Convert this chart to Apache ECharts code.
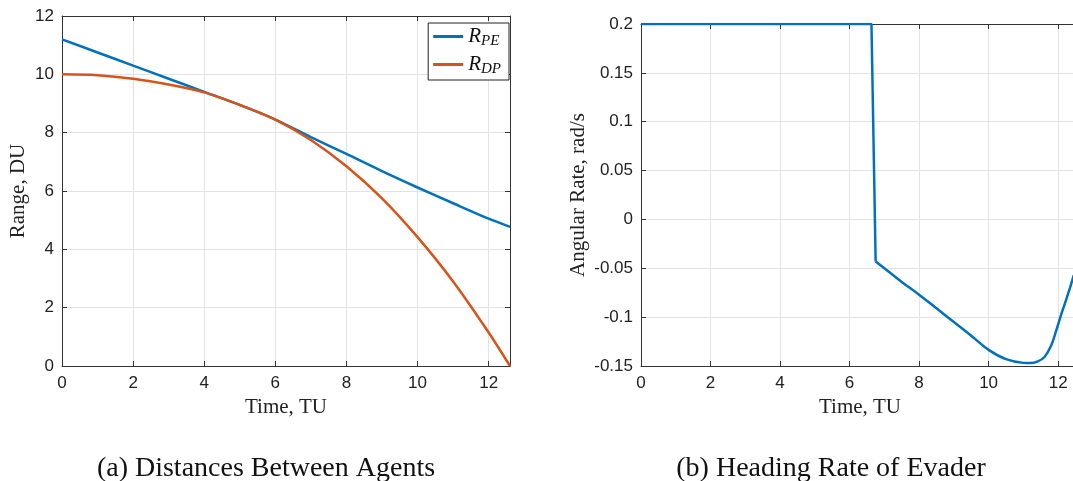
<!DOCTYPE html>
<html>
<head>
<meta charset="utf-8">
<script src="https://cdn.jsdelivr.net/npm/echarts@6/dist/echarts.min.js"></script>
<style>
  html, body { margin: 0; padding: 0; background: #fff; }
  #main { width: 1073px; height: 481px; }
</style>
</head>
<body>
<div id="main"></div>
<script>
// (a) distances between agents
const timeA = [0, 1, 2, 3, 4, 5, 6, 7, 8, 9, 10, 11, 12, 12.6];
const rangePE = [11.2, 10.75, 10.3, 9.85, 9.4, 8.95, 8.45, 7.85, 7.27, 6.68, 6.12, 5.58, 5.05, 4.77];
const rangeDP = [10.0, 9.97, 9.85, 9.65, 9.38, 8.95, 8.45, 7.75, 6.85, 5.75, 4.42, 2.9, 1.15, 0.0];

// (b) heading rate of evader: constant part + jump, then the curved part
const timeB1 = [0, 6.63, 6.75];
const rateB1 = [0.2, 0.2, -0.043];
const timeB2 = [6.75, 7, 7.5, 8, 8.5, 9, 9.5, 10, 10.5, 11, 11.2, 11.4, 11.6, 11.8, 11.95, 12.1, 12.25, 12.35, 12.45];
const rateB2 = [-0.043, -0.050, -0.064, -0.077, -0.091, -0.105, -0.119, -0.1335, -0.143, -0.1468, -0.147, -0.1455, -0.141, -0.129, -0.113, -0.096, -0.080, -0.069, -0.057];

const blue = "#0072BD";
const orange = "#D95319";
const axisCol = "#333333";
const tickFont = "Liberation Sans";
const serif = "Liberation Serif";

function zip(xs, ys) {
  return xs.map((x, i) => [x, ys[i]]);
}

const myChart = echarts.init(document.getElementById("main"));

function mainX(idx, max) {
  return {
    type: "value",
    gridIndex: idx,
    min: 0,
    max: max,
    interval: 2,
    name: "Time, TU",
    nameLocation: "middle",
    nameGap: 30,
    nameTextStyle: { fontFamily: serif, fontSize: 21, color: "#222" },
    axisLine: { show: true, onZero: false, lineStyle: { color: axisCol, width: 1 } },
    axisTick: { show: true, inside: true, length: 5, lineStyle: { color: axisCol } },
    axisLabel: { showMaxLabel: false, fontFamily: tickFont, fontSize: 17, color: "#222", margin: 9 },
    splitLine: { show: true, lineStyle: { color: "#e3e3e3", width: 1 } },
  };
}

function boxX(idx, max) {
  return {
    type: "value",
    gridIndex: idx,
    position: "top",
    min: 0,
    max: max,
    interval: 2,
    axisLine: { show: true, onZero: false, lineStyle: { color: axisCol, width: 1 } },
    axisTick: { show: true, inside: true, length: 5, lineStyle: { color: axisCol } },
    axisLabel: { show: false },
    splitLine: { show: false },
  };
}

function mainY(idx, min, max, interval, name, gap, fmt) {
  return {
    type: "value",
    gridIndex: idx,
    min: min,
    max: max,
    interval: interval,
    name: name,
    nameLocation: "middle",
    nameGap: gap,
    nameTextStyle: { fontFamily: serif, fontSize: 21, color: "#222" },
    axisLine: { show: true, onZero: false, lineStyle: { color: axisCol, width: 1 } },
    axisTick: { show: true, inside: true, length: 5, lineStyle: { color: axisCol } },
    axisLabel: { fontFamily: tickFont, fontSize: 17, color: "#222", margin: 8, formatter: fmt },
    splitLine: { show: true, lineStyle: { color: "#e3e3e3", width: 1 } },
  };
}

function boxY(idx, min, max, interval) {
  return {
    type: "value",
    gridIndex: idx,
    position: "right",
    min: min,
    max: max,
    interval: interval,
    axisLine: { show: true, onZero: false, lineStyle: { color: axisCol, width: 1 } },
    axisTick: { show: true, inside: true, length: 5, lineStyle: { color: axisCol } },
    axisLabel: { show: false },
    splitLine: { show: false },
  };
}

let option = {
  animation: false,
  backgroundColor: "#fff",
  grid: [
    { left: 62, top: 16, width: 448, bottom: 115, outerBoundsMode: "none" },
    { left: 641, top: 24, width: 438, bottom: 115, outerBoundsMode: "none" },
  ],
  title: [
    {
      text: "(a) Distances Between Agents",
      left: 261, top: 450, textAlign: "center",
      textStyle: { fontFamily: serif, fontSize: 28, fontWeight: "normal", color: "#111" },
    },
    {
      text: "(b) Heading Rate of Evader",
      left: 826, top: 450, textAlign: "center",
      textStyle: { fontFamily: serif, fontSize: 28, fontWeight: "normal", color: "#111" },
    },
  ],
  legend: {
    data: ["R_PE", "R_DP"],
    orient: "vertical",
    right: 1073 - 509,
    top: 23,
    backgroundColor: "#fff",
    borderColor: "#222",
    borderWidth: 1,
    borderRadius: 0,
    padding: [3, 8, 3, 5],
    itemGap: 5,
    itemWidth: 30,
    itemHeight: 18,
    icon: "path://M0,7 L30,7 L30,10 L0,10 Z",
    formatter: function (name) {
      return "{r|R}{s|" + name.split("_")[1] + "}";
    },
    textStyle: {
      rich: {
        r: { fontFamily: serif, fontStyle: "italic", fontSize: 21, color: "#111" },
        s: { fontFamily: serif, fontStyle: "italic", fontSize: 15, color: "#111", padding: [10, 0, 0, 0] },
      },
    },
  },
  xAxis: [mainX(0, 12.6), boxX(0, 12.6), mainX(1, 12.6), boxX(1, 12.6)],
  yAxis: [
    mainY(0, 0, 12, 2, "Range, DU", 33),
    boxY(0, 0, 12, 2),
    mainY(1, -0.15, 0.2, 0.05, "Angular Rate, rad/s", 52, function (v) {
      return String(Math.round(v * 100) / 100);
    }),
    boxY(1, -0.15, 0.2, 0.05),
  ],
  series: [
    {
      name: "R_PE", type: "line", xAxisIndex: 0, yAxisIndex: 0,
      data: zip(timeA, rangePE), smooth: 0.3, showSymbol: false,
      itemStyle: { color: blue }, lineStyle: { color: blue, width: 2.5 },
    },
    {
      name: "R_DP", type: "line", xAxisIndex: 0, yAxisIndex: 0,
      data: zip(timeA, rangeDP), smooth: 0.3, showSymbol: false,
      itemStyle: { color: orange }, lineStyle: { color: orange, width: 2.5 },
    },
    {
      name: "rate", type: "line", xAxisIndex: 2, yAxisIndex: 2,
      data: zip(timeB1, rateB1), showSymbol: false,
      itemStyle: { color: blue }, lineStyle: { color: blue, width: 2.5 },
    },
    {
      name: "rate2", type: "line", xAxisIndex: 2, yAxisIndex: 2,
      data: zip(timeB2, rateB2), smooth: 0.4, showSymbol: false,
      itemStyle: { color: blue }, lineStyle: { color: blue, width: 2.5 },
    },
  ],
};

option && myChart.setOption(option);
</script>
</body>
</html>
